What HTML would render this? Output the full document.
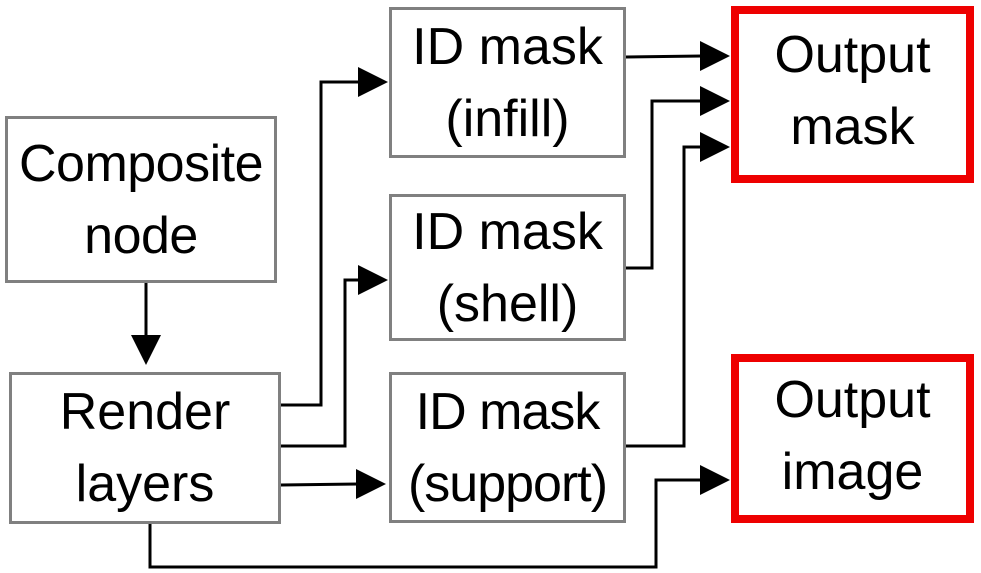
<!DOCTYPE html>
<html><head><style>
body{margin:0;background:#fff;}
.b{position:absolute;box-sizing:border-box;border:3px solid #808080;display:flex;align-items:center;justify-content:center;text-align:center;font-family:"Liberation Sans",sans-serif;font-size:52px;line-height:72px;color:#000;white-space:nowrap;}
.r{border:8px solid #ee0000;}
</style></head><body>
<div style="position:relative;width:981px;height:573px;overflow:hidden">
<div class="b" style="left:5px;top:116px;width:272px;height:167px;letter-spacing:-0.5px">Composite<br>node</div>
<div class="b" style="left:9px;top:372px;width:272px;height:152px">Render<br>layers</div>
<div class="b" style="left:389px;top:7px;width:237px;height:151px">ID mask<br>(infill)</div>
<div class="b" style="left:389px;top:194px;width:237px;height:147px">ID mask<br>(shell)</div>
<div class="b" style="left:389px;top:372px;width:237px;height:151px;letter-spacing:-1px">ID mask<br>(support)</div>
<div class="b r" style="left:731px;top:6px;width:243px;height:177px;padding-bottom:8px">Output<br>mask</div>
<div class="b r" style="left:731px;top:354px;width:243px;height:169px;padding-bottom:6px">Output<br>image</div>
<svg width="981" height="573" style="position:absolute;left:0;top:0" fill="none" stroke="#000" stroke-width="3">
<g>
<polyline points="146,283 146,335"/><path d="M131,335 L161,335 L146,365z" fill="#000" stroke="none"/>
<polyline points="281,405 321,405 321,82 358,82"/><path d="M358,67 L388,82 L358,97z" fill="#000" stroke="none"/>
<polyline points="281,446 345,446 345,280 358,280"/><path d="M358,265 L388,280 L358,295z" fill="#000" stroke="none"/>
<polyline points="281,485 358,484"/><path d="M356,469 L386,484 L356,499z" fill="#000" stroke="none"/>
<polyline points="150,524 150,567 656,567 656,480 702,480"/><path d="M700,465 L730,480 L700,495z" fill="#000" stroke="none"/>
<polyline points="626,57 702,56"/><path d="M700,41 L730,56 L700,71z" fill="#000" stroke="none"/>
<polyline points="626,268 652,268 652,101 702,101"/><path d="M700,86 L730,101 L700,116z" fill="#000" stroke="none"/>
<polyline points="626,446 684,446 684,147 702,147"/><path d="M700,132 L730,147 L700,162z" fill="#000" stroke="none"/>
</g></svg>
</div>
</body></html>
